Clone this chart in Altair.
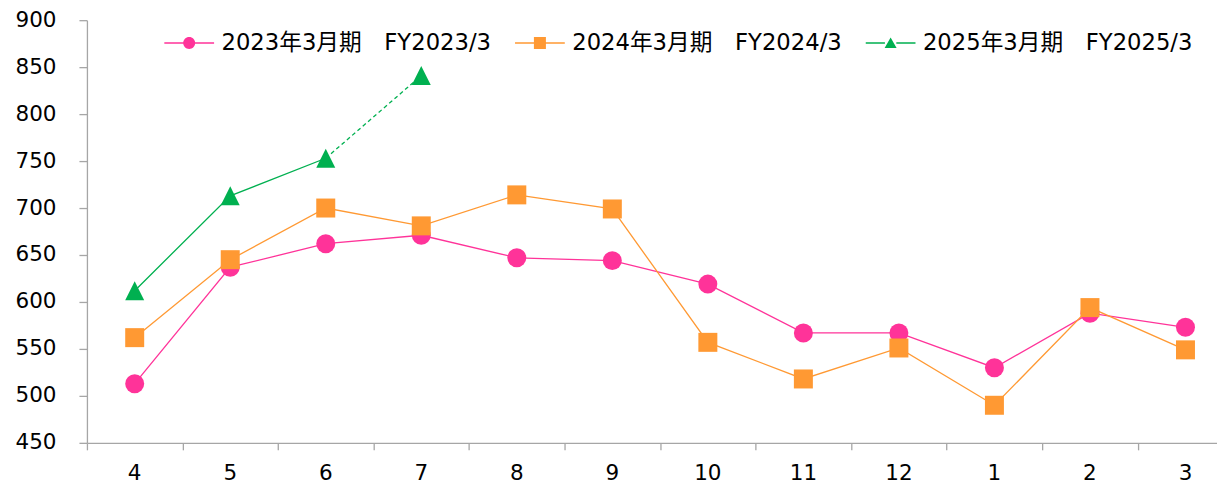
import altair as alt
import pandas as pd

# ---- data ----
months = ["4", "5", "6", "7", "8", "9", "10", "11", "12", "1", "2", "3"]
series_names = ["2023年3月期　FY2023/3", "2024年3月期　FY2024/3", "2025年3月期　FY2025/3"]
fy2023 = [513, 637, 662, 671, 647, 644, 619, 567, 567, 530, 588, 573]
fy2024 = [562, 645, 700, 681, 714, 699, 557, 518, 551, 490, 594, 549]
fy2025 = [612, 713, 753, 841]
fy2025_confirmed = 3  # first 3 months solid, last segment dashed
colors = ["#FF3399", "#FF9933", "#00B050"]
y_ticks = [450, 500, 550, 600, 650, 700, 750, 800, 850, 900]

FONT = "DejaVu Sans, Noto Sans CJK JP"
AXIS_GRAY = "#A6A6A6"

rows = []
for name, vals in zip(series_names, [fy2023, fy2024, fy2025]):
    for i, v in enumerate(vals):
        rows.append({"idx": i, "month": months[i], "series": name, "value": v})
df = pd.DataFrame(rows)

solid = df[~((df["series"] == series_names[2]) & (df["idx"] >= fy2025_confirmed))]
dashed = df[(df["series"] == series_names[2]) & (df["idx"] >= fy2025_confirmed - 1)]
month_df = pd.DataFrame({"idx": list(range(len(months))), "month": months})

x_scale = alt.Scale(domain=[-0.5, 11.33], nice=False, zero=False)
y_scale = alt.Scale(domain=[450, 900], nice=False, zero=False)
color_scale = alt.Scale(domain=series_names, range=colors)

tri = "M0,-1L1,1L-1,1Z"
point_shapes = alt.Scale(domain=series_names, range=["circle", "square", tri])

line_part = "M-4.15,-0.12H-0.95V0.12H-4.15ZM0.95,-0.12H4.15V0.12H0.95Z"
legend_shapes = alt.Scale(
    domain=series_names,
    range=[
        line_part + "M1,0A1,1,0,1,1,-1,0A1,1,0,1,1,1,0Z",
        line_part + "M-1,-1H1V1H-1Z",
        line_part + "M0,-0.9L1,0.85H-1Z",
    ],
)

x_enc = alt.X(
    "idx:Q",
    scale=x_scale,
    axis=alt.Axis(
        values=[i - 0.5 for i in range(12)],
        labels=False,
        title=None,
        grid=False,
        tickSize=7,
        tickColor=AXIS_GRAY,
        tickWidth=1.3,
        domainColor=AXIS_GRAY,
        domainWidth=1.3,
    ),
)
y_enc = alt.Y(
    "value:Q",
    scale=y_scale,
    axis=alt.Axis(
        values=y_ticks,
        title=None,
        grid=False,
        tickSize=8,
        tickColor=AXIS_GRAY,
        tickWidth=1.3,
        domainColor=AXIS_GRAY,
        domainWidth=1.3,
        labelPadding=23,
        labelFont=FONT,
        labelFontSize=21.5,
        labelColor="#000000",
    ),
)

lines = alt.Chart(solid).mark_line(strokeWidth=1.3).encode(
    x=x_enc, y=y_enc,
    color=alt.Color("series:N", scale=color_scale, legend=None),
)
dash = alt.Chart(dashed).mark_line(strokeWidth=1.3, strokeDash=[4, 3]).encode(
    x=x_enc, y=y_enc,
    color=alt.Color("series:N", scale=color_scale, legend=None),
)
points = alt.Chart(df).mark_point(filled=True, opacity=1, size=361).encode(
    x=x_enc, y=y_enc,
    color=alt.Color("series:N", scale=color_scale, legend=None),
    shape=alt.Shape("series:N", scale=point_shapes, legend=None),
)

leg = alt.Legend(
    title=None,
    orient="none",
    legendX=91,
    legendY=11,
    direction="horizontal",
    columns=3,
    symbolSize=144,
    symbolOpacity=1,
    symbolStrokeWidth=0,
    labelFont=FONT,
    labelFontSize=22.7,
    labelColor="#000000",
    labelOffset=21,
    labelLimit=600,
    columnPadding=23,
    padding=0,
)
legend_layer = alt.Chart(df).mark_point(filled=True, opacity=0, size=144).encode(
    x=x_enc, y=y_enc,
    color=alt.Color("series:N", scale=color_scale, legend=leg),
    shape=alt.Shape("series:N", scale=legend_shapes, legend=leg),
)

month_labels = alt.Chart(month_df).mark_text(
    font=FONT, fontSize=21.5, baseline="middle", align="center", color="#000000"
).encode(
    x=alt.X("idx:Q", scale=x_scale),
    y=alt.value(454),
    text="month:N",
)

chart = (
    alt.layer(lines, dash, points, legend_layer, month_labels)
    .resolve_scale(color="independent", shape="independent")
    .properties(
        width=1131,
        height=423,
        padding={"left": 79, "top": 12, "right": 0, "bottom": 42},
        autosize="none",
        background="#FFFFFF",
    )
    .configure_view(stroke=None)
)

chart.save("out.html", embed_options={"renderer": "svg", "actions": False})
